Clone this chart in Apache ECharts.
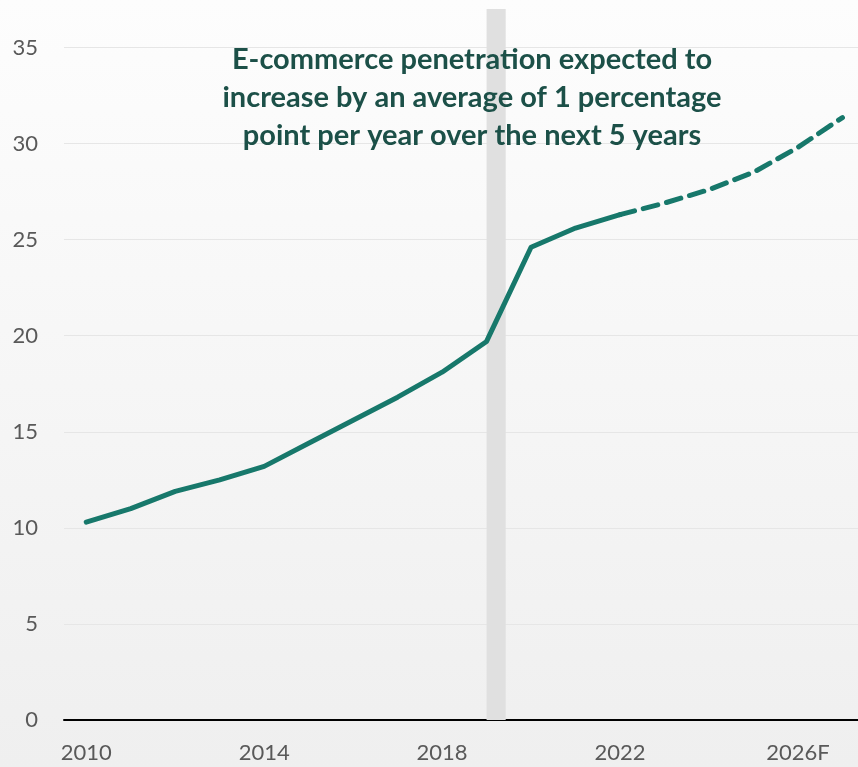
<!DOCTYPE html>
<html>
<head>
<meta charset="utf-8">
<script src="https://cdn.jsdelivr.net/npm/echarts@6/dist/echarts.min.js"></script>
<style>html,body{margin:0;padding:0;}#chart{width:858px;height:767px;}</style>
</head>
<body>
<div id="chart"></div>
<script>
var categories = ['2010','2011','2012','2013','2014','2015','2016','2017','2018','2019','2020','2021','2022','2023F','2024F','2025F','2026F','2027F'];
var actualValues = [10.3, 11.0, 11.9, 12.5, 13.2, 14.4, 15.6, 16.8, 18.1, 19.7, 24.6, 25.6, 26.3];
var forecastValues = [null, null, null, null, null, null, null, null, null, null, null, null, 26.3, 26.9, 27.6, 28.5, 29.8, 31.35];
var tickIndices = [0, 4, 8, 12, 16];
var bandStart = 9, bandEnd = 9.43;
var annotation = 'E-commerce penetration expected to\nincrease by an average of 1 percentage\npoint per year over the next 5 years';

var FONT = 'Lato, "Open Sans", sans-serif';
var chart = echarts.init(document.getElementById('chart'));
function toPairs(arr){ var out=[]; arr.forEach(function(v,i){ if(v!==null) out.push([i,v]); }); return out; }
chart.setOption({
  backgroundColor: new echarts.graphic.LinearGradient(0,0,0,1,[{offset:0,color:'#fdfdfd'},{offset:1,color:'#efefef'}]),
  animation: false,
  title: {
    text: annotation,
    left: 467, top: 36, textAlign: 'center',
    textStyle: { fontFamily: FONT, fontSize: 29, fontWeight: 'bold', color: '#1c5048', lineHeight: 38, align: 'center' }
  },
  grid: { left: 64, right: 0, top: 9, bottom: 47, containLabel: false },
  xAxis: {
    type: 'value', min: -0.5, max: 17.35,
    axisLine: { show: true, onZero: false, lineStyle: { color: '#000', width: 2 } },
    axisTick: { show: false },
    splitLine: { show: false },
    axisLabel: {
      customValues: tickIndices,
      formatter: function(v){ return categories[Math.round(v)].replace('2026F','2026F'); },
      fontFamily: FONT, fontSize: 22, color: '#595959', margin: 22
    }
  },
  yAxis: {
    type: 'value', min: 0, max: 37, interval: 5,
    axisLine: { show: false }, axisTick: { show: false },
    axisLabel: { showMaxLabel: false, fontFamily: FONT, fontSize: 22, color: '#595959', margin: 26 },
    splitLine: { showMaxLine: false, showMinLine: false, lineStyle: { color: '#e6e6e6', width: 1 } }
  },
  series: [
    {
      type: 'line', data: toPairs(actualValues), symbol: 'none', z: 3,
      lineStyle: { color: '#17786b', width: 5, cap: 'round', join: 'round' },
      markArea: {
        silent: true,
        itemStyle: { color: '#e0e0e0' },
        data: [[{ xAxis: bandStart }, { xAxis: bandEnd }]]
      }
    },
    {
      type: 'line', data: toPairs(forecastValues), symbol: 'none', z: 3,
      lineStyle: { color: '#17786b', width: 5, type: [15, 9], cap: 'round', join: 'round' }
    }
  ]
});
</script>
</body>
</html>
